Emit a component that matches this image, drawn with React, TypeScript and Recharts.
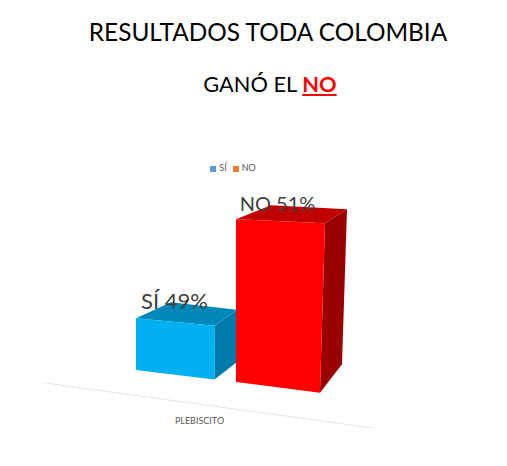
import { BarChart, Bar, XAxis, YAxis, Legend, LabelList } from 'recharts'

const categories = ['PLEBISCITO']
const siValues = [49]
const noValues = [51]

const data = categories.map((name, i) => ({ name, si: siValues[i], no: noValues[i] }))

const blueFaces = { front: '#00B0F0', top: '#0088BA', side: '#007AA8' }
const redFaces = { front: '#FF0000', top: '#C00000', side: '#990000' }

const pts = (p: number[][]) => p.map((c) => c.join(',')).join(' ')

// fakes the excel 3d look on top of the flat rect recharts gives us
function Box3D({ x, y, width, height, faces }: any) {
  const t = height / 155
  const floor = (px: number) => (px - 136) * 0.12
  const slope = 0.12 - 0.000485 * height
  const right = x + width

  const tl = [x, y + (x - 136) * slope]
  const tr = [right, y + (right - 136) * slope]
  const bl = [x, y + height + floor(x)]
  const br = [right - 5 * t * t, y + height + floor(right)]

  const baseDy = -17 - (right - 215) * 0.105
  const dy = baseDy + (-14 - baseDy) * t
  const backR = [tr[0] + 22, tr[1] + dy]
  const backL = [tl[0] + 35, tl[1] + dy]
  const backB = [br[0] + 22, br[1] + baseDy]

  return (
    <g>
      <polygon points={pts([tr, backR, backB, br])} fill={faces.side} />
      <polygon points={pts([tl, backL, backR, tr])} fill={faces.top} />
      <polygon points={pts([tl, tr, br, bl])} fill={faces.front} />
    </g>
  )
}

export default function App() {
  return (
    <div style={{ position: 'absolute', left: 0, top: 0, width: 507, height: 466, fontFamily: 'Lato' }}>
      <div style={{ position: 'absolute', top: 17, width: 536, textAlign: 'center', fontSize: 24.4, color: '#000' }}>
        RESULTADOS TODA COLOMBIA
      </div>
      <div style={{ position: 'absolute', top: 70, width: 540, textAlign: 'center', fontSize: 21.8, color: '#000' }}>
        GANÓ EL{' '}
        <span style={{ color: '#FF0000', fontWeight: 700, textDecoration: 'underline' }}>NO</span>
      </div>
      <BarChart
        width={507}
        height={466}
        data={data}
        barGap={21}
        margin={{ top: 163, right: 76, bottom: 22, left: 30 }}
      >
        <line x1={45} y1={383} x2={373} y2={428} stroke="#E4E4E4" />
        <XAxis
          dataKey="name"
          height={60}
          axisLine={false}
          tickLine={false}
          tickMargin={42}
          tick={{ fontSize: 9, fill: '#595959', dx: -31 }}
        />
        <YAxis hide domain={[48, 52]} />
        <Legend
          iconType="square"
          iconSize={6}
          itemSorter={null}
          wrapperStyle={{ position: 'absolute', left: 186, top: 162, width: 100, height: 14, fontSize: 9, color: '#595959' }}
          formatter={(v) => (
            <span style={{ color: '#595959', whiteSpace: 'nowrap', marginLeft: -1, marginRight: -4 }}>{v}</span>
          )}
        />
        <Bar
          dataKey="si"
          name="SÍ"
          fill="#5B9BD5"
          barSize={79}
          isAnimationActive={false}
          shape={(p: any) => <Box3D {...p} faces={blueFaces} />}
        >
          <LabelList
            dataKey="si"
            position="top"
            offset={9}
            dx={-1}
            fontSize={22}
            fill="#404040"
            formatter={(v: any) => `SÍ ${v}%`}
          />
        </Bar>
        <Bar
          dataKey="no"
          name="NO"
          fill="#ED7D31"
          barSize={89}
          isAnimationActive={false}
          shape={(p: any) => <Box3D {...p} faces={redFaces} />}
        >
          <LabelList
            dataKey="no"
            position="top"
            offset={4}
            dx={-3}
            fontSize={20}
            fill="#404040"
            formatter={(v: any) => `NO ${v}%`}
          />
        </Bar>
      </BarChart>
    </div>
  )
}
